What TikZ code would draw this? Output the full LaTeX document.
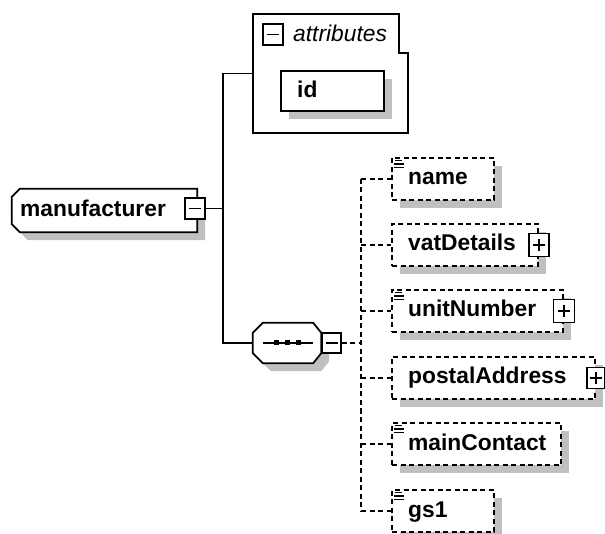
\documentclass[tikz,border=0pt]{standalone}
\usepackage{fontspec}
\setmainfont{Liberation Sans}
\usetikzlibrary{calc,shadows}
\definecolor{shdcol}{RGB}{192,192,192}
\newcommand\lblfont{\fontsize{22.8pt}{26pt}\selectfont\bfseries}
\newcommand\attfont{\fontsize{22.8pt}{26pt}\selectfont\itshape}
\tikzset{
  ln/.style={line width=1.7pt},
  dsh/.style={line width=1.7pt, dash pattern=on 5pt off 3.5pt},
  shd/.style={drop shadow={shadow xshift=8pt, shadow yshift=-8pt, fill=shdcol, opacity=1}},
  frame/.style={draw=none, inner sep=0pt},
  child/.style={dsh, draw, fill=white, inner sep=0pt, shd},
  solidbox/.style={ln, draw, fill=white, inner sep=0pt, shd},
  tog/.style={ln, draw, fill=white, inner sep=0pt, minimum width=20pt, minimum height=21pt},
  lbl/.style={anchor=base west, inner sep=0pt, font=\lblfont},
  att/.style={anchor=base west, inner sep=0pt, font=\attfont},
}
\newcommand\minus[1]{\draw[line width=1.5pt] ($(#1.center)+(-6,0)$) -- ($(#1.center)+(6,0)$);}
\newcommand\plus[1]{\draw[line width=1.5pt] ($(#1.center)+(-6,0)$) -- ($(#1.center)+(6,0)$) ($(#1.center)+(0,-6)$) -- ($(#1.center)+(0,6)$);}
\newcommand\docicon[1]{\draw[line width=1.6pt] ($(#1.north west)+(4,3.5)$) -- ++(7,0) ($(#1.north west)+(2.5,7)$) -- ++(10,0) ($(#1.north west)+(2.5,10.5)$) -- ++(10,0);}
\begin{document}
\begin{tikzpicture}[x=1pt,y=-1pt]
\useasboundingbox (0,0) rectangle (605,534);

% frames of custom shapes
\node[frame, minimum width=185pt, minimum height=43pt] (manuf) at (104.5,210.5) {};
\node[frame, minimum width=155pt, minimum height=119pt] (attr) at (330.5,73.5) {};
\node[frame, minimum width=68pt, minimum height=40pt] (seq) at (287,343) {};

% manufacturer element
\filldraw[ln, fill=white, shd] ($(manuf.north west)+(8,0)$) -- (manuf.north east) -- (manuf.south east)
  -- ($(manuf.south west)+(8,0)$) -- ($(manuf.south west)+(0,-8)$) -- ($(manuf.north west)+(0,8)$) -- cycle;
\node[lbl] (manuft) at (20,216.5) {manufacturer};
\node[tog] (mtog) at (195,208.5) {};
\minus{mtog}

% attributes group
\filldraw[ln, fill=white] (attr.north west) -- ($(attr.north east)+(-9,0)$) -- ($(attr.north east)+(-9,39)$)
  -- ($(attr.north east)+(0,39)$) -- (attr.south east) -- (attr.south west) -- cycle;
\node[tog] (atog) at (273,34.5) {};
\minus{atog}
\node[att] (attt) at (293,41.5) {attributes};
\node[solidbox, minimum width=103pt, minimum height=40pt] (idb) at (332.5,91) {};
\node[lbl] (idt) at (297,97.5) {id};

% sequence compositor
\filldraw[ln, fill=white, shd] ($(seq.north west)+(10,0)$) -- ($(seq.north east)+(-8,0)$) -- ($(seq.north east)+(0,10)$)
  -- ($(seq.south east)+(0,-10)$) -- ($(seq.south east)+(-8,0)$) -- ($(seq.south west)+(10,0)$)
  -- ($(seq.south west)+(0,-10)$) -- ($(seq.north west)+(0,10)$) -- cycle;
\draw[line width=1.5pt] ($(seq.west)+(10,0)$) -- ($(seq.east)+(-8,0)$);
\fill ($(seq.center)+(-13.5,-2.5)$) rectangle +(5,5);
\fill ($(seq.center)+(-2.5,-2.5)$) rectangle +(5,5);
\fill ($(seq.center)+(8.5,-2.5)$) rectangle +(5,5);
\node[tog, minimum width=19pt, minimum height=20pt] (stog) at (331.5,343) {};
\minus{stog}

% solid connectors
\coordinate (j) at (223,208.5);
\draw[ln] (mtog.east) -- (j);
\draw[ln] (attr.west) -| (j) |- (seq.west);

% children
\node[child, minimum width=102pt, minimum height=42pt] (name) at (443,179) {};
\node[lbl] (namet) at (408,185) {name};
\docicon{name}

\node[child, minimum width=146pt, minimum height=42pt] (vat) at (465,245) {};
\node[lbl] (vatt) at (408,251) {vatDetails};
\node[tog, minimum height=23pt] (vtog) at (vat.east) {};
\plus{vtog}

\node[child, minimum width=171pt, minimum height=42pt] (unit) at (477.5,311) {};
\node[lbl] (unitt) at (408,317) {unitNumber};
\docicon{unit}
\node[tog, minimum width=21pt, minimum height=23pt] (utog) at (unit.east) {};
\plus{utog}

\node[child, minimum width=203pt, minimum height=42pt] (postal) at (493.5,378) {};
\node[lbl] (postalt) at (408,384) {postalAddress};
\node[tog, minimum width=18pt, minimum height=21pt] (ptog) at (postal.east) {};
\plus{ptog}

\node[child, minimum width=169pt, minimum height=42pt] (main) at (476.5,444) {};
\node[lbl] (maint) at (408,450) {mainContact};
\docicon{main}

\node[child, minimum width=102pt, minimum height=42pt] (gs) at (443,511) {};
\node[lbl] (gst) at (408,517) {gs1};
\docicon{gs}

% dashed connectors
\coordinate (sv) at (361,343);
\draw[dsh] (stog.east) -- (sv);
\draw[dsh] (sv |- name.west) -- (sv |- gs.west);
\foreach \c in {name,vat,unit,postal,main,gs}{
  \draw[dsh] (sv |- \c.west) -- (\c.west);
}
\end{tikzpicture}
\end{document}
